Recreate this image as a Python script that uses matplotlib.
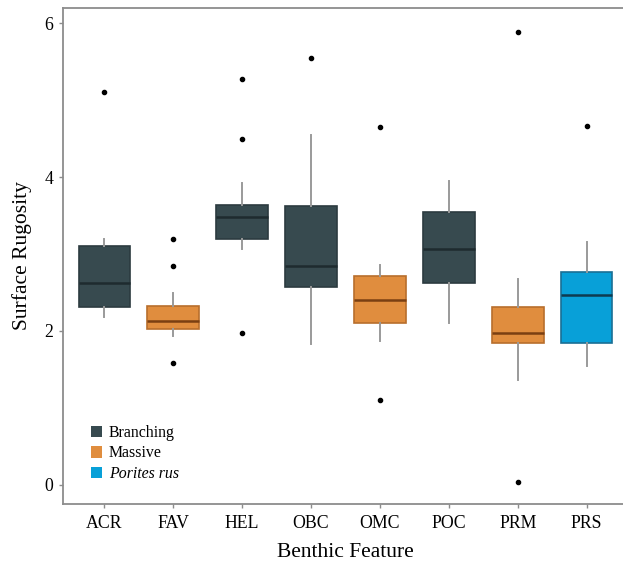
import matplotlib
matplotlib.use("Agg")
import matplotlib.pyplot as plt
from matplotlib.patches import Patch

plt.rcParams['font.family'] = ['Liberation Serif', 'DejaVu Serif']

categories = ["ACR", "FAV", "HEL", "OBC", "OMC", "POC", "PRM", "PRS"]
groups = ["Branching", "Massive", "Branching", "Branching", "Massive", "Branching", "Massive", "Porites rus"]
whislo = [2.18, 1.93, 3.07, 1.83, 1.87, 2.11, 1.36, 1.55]
q1 = [2.31, 2.02, 3.20, 2.57, 2.11, 2.62, 1.84, 1.84]
med = [2.62, 2.13, 3.48, 2.85, 2.40, 3.07, 1.98, 2.47]
q3 = [3.11, 2.32, 3.64, 3.62, 2.72, 3.54, 2.31, 2.77]
whishi = [3.19, 2.49, 3.92, 4.55, 2.86, 3.95, 2.68, 3.16]
fliers = [[5.10], [3.20, 2.84, 1.59], [5.27, 4.49, 1.98], [5.55], [4.65, 1.10], [], [5.88, 0.04], [4.66]]

legend_labels = ["Branching", "Massive", "Porites rus"]
face = {"Branching": "#374a4f", "Massive": "#e08d3e", "Porites rus": "#08a0d8"}
edge = {"Branching": "#2c3b40", "Massive": "#b86e2c", "Porites rus": "#1a6f95"}
medc = {"Branching": "#1e2b2f", "Massive": "#7a3f12", "Porites rus": "#0e3a50"}

fig = plt.figure(figsize=(6.23, 5.62), dpi=100)
ax = fig.add_axes([63/623, 1-504/562, (628-63)/623, (504-8)/562])

positions = list(range(1, len(categories) + 1))
for i, cat in enumerate(categories):
    g = groups[i]
    stats = [dict(label=cat, whislo=whislo[i], q1=q1[i], med=med[i], q3=q3[i],
                  whishi=whishi[i], fliers=fliers[i])]
    ax.bxp(stats, positions=[positions[i]], widths=0.75, patch_artist=True,
           showcaps=False,
           boxprops=dict(facecolor=face[g], edgecolor=edge[g], linewidth=1.2),
           medianprops=dict(color=medc[g], linewidth=1.8),
           whiskerprops=dict(color="#9a9a9a", linewidth=1.4),
           flierprops=dict(marker='o', markerfacecolor='black', markeredgecolor='black',
                           markersize=3.0, linestyle='none'),
           manage_ticks=False, zorder=2)

ax.set_xlim(0.4, 8.6)
ax.set_ylim(-0.247, 6.195)
ax.set_xticks(positions)
ax.set_xticklabels(categories)
ax.set_yticks([0, 2, 4, 6])

for s in ['top', 'left', 'bottom']:
    ax.spines[s].set_color('#8c8c8c')
    ax.spines[s].set_linewidth(1.3)
ax.spines['right'].set_visible(False)
ax.tick_params(axis='both', colors='#8c8c8c', length=3, width=1, labelsize=12.8, labelcolor='black')
ax.tick_params(axis='x', pad=5)
ax.tick_params(axis='y', pad=4)

ax.set_xlabel("Benthic Feature", fontsize=15.5, labelpad=8)
ax.set_ylabel("Surface Rugosity", fontsize=15.5, labelpad=9)

handles = [Patch(facecolor=face[l], edgecolor='none') for l in legend_labels]
leg = ax.legend(handles, legend_labels, loc='upper left', bbox_to_anchor=(28/565, 1 - (425-8)/496),
                frameon=False, fontsize=11.4, handlelength=0.72, handleheight=0.72,
                handletextpad=0.4, labelspacing=0.28, borderpad=0, borderaxespad=0)
leg.get_texts()[2].set_style('italic')

fig.savefig("out.png", dpi=100)
